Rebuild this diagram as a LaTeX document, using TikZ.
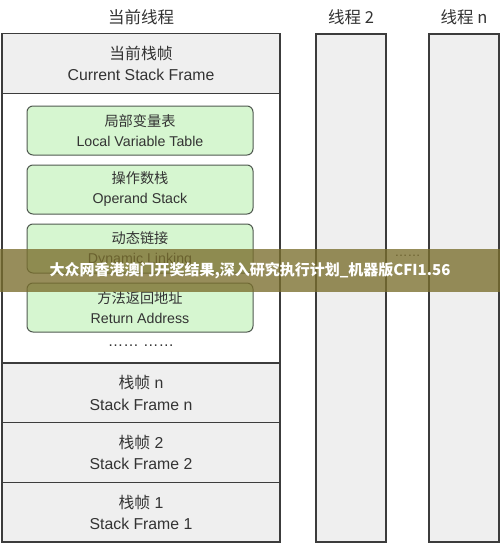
\documentclass[tikz,border=0pt]{standalone}
\usepackage{fontspec}
\setmainfont{Liberation Sans}
\newfontfamily\cjk{Noto Sans CJK SC}
\usepackage{tikz}

\definecolor{ink}{RGB}{51,51,51}
\definecolor{edge}{RGB}{60,60,60}
\definecolor{framegray}{RGB}{239,239,239}
\definecolor{partgreen}{RGB}{214,246,208}
\definecolor{partedge}{RGB}{80,90,80}
\definecolor{bannercol}{RGB}{122,110,45}

\begin{document}
\begin{tikzpicture}[x=1pt,y=-1pt,
        title/.style={text=ink,font=\cjk\fontsize{16.5}{20}\selectfont},
        thread/.style={draw=edge,line width=1.3pt,fill=framegray,minimum width=70pt,minimum height=508pt,inner sep=0pt},
        frame/.style={draw=edge,line width=1.3pt,fill=framegray,minimum width=278pt,inner sep=0pt,
            text=ink,align=center,font=\fontsize{15.8}{21.5}\selectfont},
        part/.style={draw=partedge,line width=1pt,fill=partgreen,rounded corners=6pt,minimum width=226pt,
            minimum height=49pt,inner sep=0pt,text=ink,align=center,font=\fontsize{14.2}{20}\selectfont}]
    \useasboundingbox (0,0) rectangle (500,543);

    % Titles
    \node[title] (tcur) at (141,17) {当前线程};
    \node[title] (t2) at (351,17) {线程 2};
    \node[title] (tn) at (464,17) {线程 n};

    % Current thread
    \node[draw=edge,line width=1.3pt,fill=white,minimum width=278pt,minimum height=508pt,inner sep=0pt] (cur) at (141,288) {};
    \node[frame,minimum height=59.5pt] (fcur) at (141,63.5) {{\cjk 当前栈帧}\\Current Stack Frame};

    % Parts of the current frame
    \node[part] (lvt) at (140,130.5) {{\cjk 局部变量表}\\Local Variable Table};
    \node[part] (ops) at (140,189.5) {{\cjk 操作数栈}\\Operand Stack};
    \node[part] (dyn) at (140,248.5) {{\cjk 动态链接}\\Dynamic Linking};
    \node[part] (ret) at (140,307.5) {{\cjk 方法返回地址}\\Return Address};
    \node[text=ink,font=\fontsize{15.5}{16}\selectfont] (dots) at (141,346) {\ldots\ldots\ \ldots\ldots};

    % Older frames
    \node[frame,minimum height=59.5pt] (fn) at (141,392.75) {{\cjk 栈帧} n\\Stack Frame n};
    \node[frame,minimum height=60pt] (f2) at (141,452.5) {{\cjk 栈帧} 2\\Stack Frame 2};
    \node[frame,minimum height=59.5pt] (f1) at (141,512.25) {{\cjk 栈帧} 1\\Stack Frame 1};

    % Other threads
    \node[thread] (th2) at (351,288) {};
    \node[thread] (thn) at (464,288) {};
    \node[text=ink,font=\fontsize{13}{14}\selectfont] (gap) at (407.5,256) {\ldots\ldots};

    % Banner
    \fill[bannercol,opacity=0.78] (0,249) rectangle (500,292);
    \node[text=white,font=\cjk\bfseries\fontsize{15}{18}\selectfont] (banner) at (250,271) {大众网香港澳门开奖结果,深入研究执行计划\_机器版CFI1.56};
\end{tikzpicture}
\end{document}
